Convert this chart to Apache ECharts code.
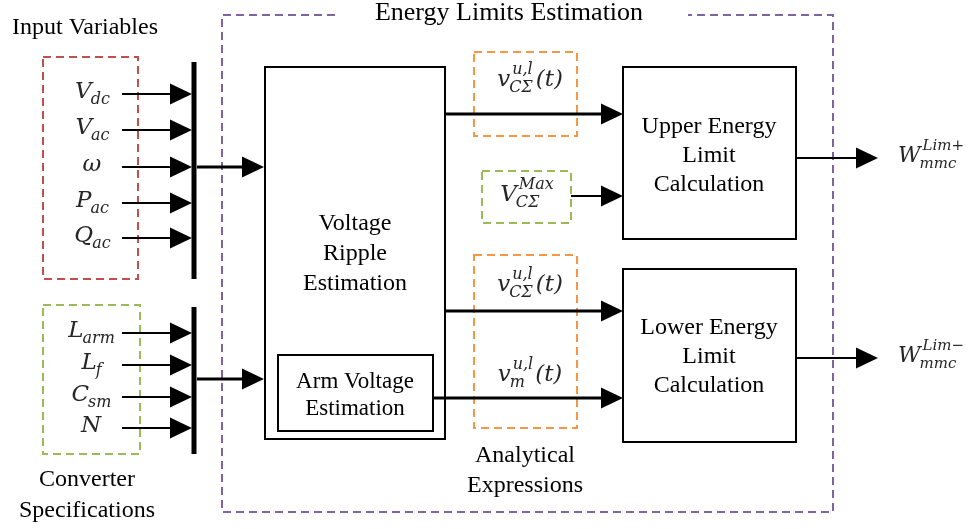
<!DOCTYPE html>
<html><head><meta charset="utf-8">
<script src="https://cdn.jsdelivr.net/npm/echarts@6/dist/echarts.min.js"></script>
<style>html,body{margin:0;padding:0;background:#fff}#c{width:971px;height:529px}</style>
</head><body><div id="c"></div>
<script>
// ---- Diagram content (text only) ----
const inputVariables = [
  {base:'V', sub:'dc'}, {base:'V', sub:'ac'}, {base:'ω'}, {base:'P', sub:'ac'}, {base:'Q', sub:'ac'}
];
const converterSpecs = [
  {base:'L', sub:'arm'}, {base:'L', sub:'f'}, {base:'C', sub:'sm'}, {base:'N'}
];
const groupTitles = ['Input Variables', 'Converter', 'Specifications', 'Energy Limits Estimation', 'Analytical', 'Expressions'];
const rippleBlock = ['Voltage', 'Ripple', 'Estimation'];
const armBlock = ['Arm Voltage', 'Estimation'];
const upperBlock = ['Upper Energy', 'Limit', 'Calculation'];
const lowerBlock = ['Lower Energy', 'Limit', 'Calculation'];
const signalVcUpper = {base:'v', sub:'CΣ', sup:'u,l', tail:'(t)'};
const signalVmax = {base:'V', sub:'CΣ', sup:'Max'};
const signalVcLower = {base:'v', sub:'CΣ', sup:'u,l', tail:'(t)'};
const signalVm = {base:'v', sub:'m', sup:'u,l', tail:'(t)'};
const outputUpper = {base:'W', sub:'mmc', sup:'Lim+'};
const outputLower = {base:'W', sub:'mmc', sup:'Lim−'};

// ---- Layout & styling ----
const SERIF = '"Liberation Serif", "Times New Roman", serif';
const MATH = '"DejaVu Serif", serif';
const COL = {red:'#C0504D', green:'#9BBB59', orange:'#F79646', purple:'#8064A2', ink:'#000', math:'#262626'};
const g = [];
const cv = document.createElement('canvas').getContext('2d');
function tw(t, size){ cv.font = 'italic ' + size + 'px ' + MATH; return cv.measureText(t).width; }

function text(t, x, y, size, opts){
  g.push(Object.assign({type:'text', x:x, y:y, silent:true,
    style:{text:t, fill:COL.ink, font:size + 'px ' + SERIF, align:'center', verticalAlign:'middle'}}, opts||{}));
}
function lines(arr, cx, y0, dy, size){ arr.forEach((t,i)=>text(t, cx, y0 + i*dy, size)); }
function box(x, y, w, h, lw){
  g.push({type:'rect', shape:{x:x, y:y, width:w, height:h}, style:{fill:'none', stroke:COL.ink, lineWidth:lw||2}, silent:true});
}
function dbox(x, y, w, h, color){
  g.push({type:'rect', shape:{x:x, y:y, width:w, height:h}, style:{fill:'none', stroke:color, lineWidth:2, lineDash:[8,5]}, silent:true});
}
function arrow(x1, x2, y, lw){
  const hw = 22, hh = 10.5;
  g.push({type:'line', shape:{x1:x1, y1:y, x2:x2 - hw + 2, y2:y}, style:{stroke:COL.ink, lineWidth:lw}, silent:true});
  g.push({type:'polygon', shape:{points:[[x2-hw, y-hh],[x2, y],[x2-hw, y+hh]]}, style:{fill:COL.ink}, silent:true});
}
function math(m, cx, y, bs){
  bs = bs || 20; const ss = Math.round(bs*0.68);
  const wb = tw(m.base, bs);
  const wsub = m.sub ? tw(m.sub, ss) : 0, wsup = m.sup ? tw(m.sup, ss) : 0;
  const wt = m.tail ? tw(m.tail, bs) : 0;
  const wmid = Math.max(wsub, wsup + 2);
  const total = wb + wmid + wt;
  const x0 = cx - total/2;
  const st = (t, s) => ({text:t, fill:COL.math, font:'italic ' + s + 'px ' + MATH, align:'left', verticalAlign:'middle'});
  g.push({type:'text', x:x0, y:y, style:st(m.base, bs), silent:true});
  if (m.sub) g.push({type:'text', x:x0 + wb - 1, y:y + bs*0.36, style:st(m.sub, ss), silent:true});
  if (m.sup) g.push({type:'text', x:x0 + wb + 2, y:y - bs*0.45, style:st(m.sup, ss), silent:true});
  if (m.tail) g.push({type:'text', x:x0 + wb + wmid + 2, y:y, style:st(m.tail, bs), silent:true});
}

// Group frames
dbox(43, 57, 95, 222, COL.red);
dbox(43, 305, 97, 149, COL.green);
dbox(474, 52, 103, 84, COL.orange);
dbox(482, 171, 89, 52, COL.green);
dbox(474, 255, 103, 173, COL.orange);
g.push({type:'polyline', shape:{points:[[335,15],[222,15],[222,512],[833,512],[833,15],[688,15]]},
  style:{fill:'none', stroke:COL.purple, lineWidth:2, lineDash:[8,5]}, silent:true});

// Titles
text(groupTitles[0], 85, 28, 24);
text(groupTitles[1], 87, 480, 24);
text(groupTitles[2], 87, 511, 24);
text(groupTitles[3], 509, 13, 26);
text(groupTitles[4], 525, 456, 24);
text(groupTitles[5], 525, 486, 24);

// Input variables + bus
const inRows = [94, 130, 167, 203, 238];
inputVariables.forEach((m,i)=>{ math(m, 93, inRows[i] - 2, 23); arrow(122, 192, inRows[i], 2); });
g.push({type:'rect', shape:{x:191.5, y:62, width:5, height:217}, style:{fill:COL.ink}, silent:true});
arrow(197, 264, 167, 3);

const specRows = [333, 365, 397, 428];
converterSpecs.forEach((m,i)=>{ math(m, 92, specRows[i] - 2, 23); arrow(122, 192, specRows[i], 2); });
g.push({type:'rect', shape:{x:191.5, y:307, width:5, height:147}, style:{fill:COL.ink}, silent:true});
arrow(197, 264, 379, 3);

// Blocks
box(265, 67, 180, 372);
lines(rippleBlock, 355, 224, 30, 24);
box(278, 355, 155, 76);
lines(armBlock, 355, 382, 27, 23);
box(623, 67, 173, 172);
lines(upperBlock, 709, 127, 29, 24);
box(623, 269, 173, 173);
lines(lowerBlock, 709, 328, 29, 24);

// Signals
arrow(445, 623, 114, 3);
math(signalVcUpper, 529, 80, 23);
arrow(571, 623, 196, 2);
math(signalVmax, 527, 195, 23);
arrow(445, 623, 311, 3);
math(signalVcLower, 529, 285, 23);
arrow(433, 623, 398, 3);
math(signalVm, 529, 375, 23);

// Outputs
arrow(796, 878, 158, 2);
math(outputUpper, 931, 156, 22);
arrow(796, 878, 358, 2);
math(outputLower, 931, 356, 22);

const chart = echarts.init(document.getElementById('c'), null, {renderer:'canvas'});
chart.setOption({animation:false, backgroundColor:'#fff', graphic:{elements:g}});
</script></body></html>
